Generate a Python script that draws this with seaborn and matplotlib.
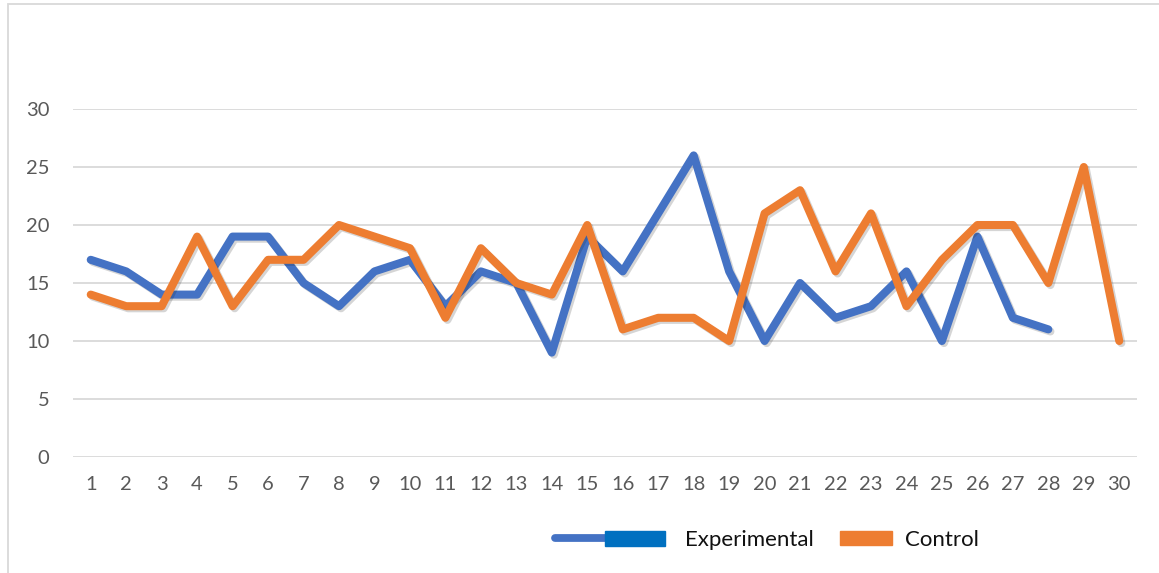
import numpy as np
import pandas as pd
import seaborn as sns
import matplotlib
matplotlib.use("Agg")
import matplotlib.pyplot as plt
import matplotlib.patheffects as pe
from matplotlib.lines import Line2D
from matplotlib.patches import Rectangle
from matplotlib.legend_handler import HandlerBase

# ---- data ----
categories = list(range(1, 31))
experimental = [17, 16, 14, 14, 19, 19, 15, 13, 16, 17, 13, 16, 15, 9, 19,
                16, 21, 26, 16, 10, 15, 12, 13, 16, 10, 19, 12, 11, np.nan, np.nan]
control = [14, 13, 13, 19, 13, 17, 17, 20, 19, 18, 12, 18, 15, 14, 20,
           11, 12, 12, 10, 21, 23, 16, 21, 13, 17, 20, 20, 15, 25, 10]
series_names = ["Experimental", "Control"]
y_ticks = [0, 5, 10, 15, 20, 25, 30]

BLUE = "#4472C4"
ORANGE = "#ED7D31"
DARKBLUE = "#0070C0"
TICKCOL = "#595959"
GRID = "#D9D9D9"

sns.set_theme(style="white")
plt.rcParams["font.family"] = ["Lato", "DejaVu Sans"]

df = pd.DataFrame({
    "x": categories * 2,
    "value": experimental + control,
    "series": [series_names[0]] * len(categories) + [series_names[1]] * len(categories),
})

W, H = 1159, 573
fig = plt.figure(figsize=(W / 100, H / 100), dpi=100)
ax = fig.add_axes([73 / W, 1 - 457 / H, (1137 - 73) / W, (457 - 109) / H])

sns.lineplot(data=df, x="x", y="value", hue="series", palette=[BLUE, ORANGE],
             linewidth=5.8, legend=False, ax=ax, sort=False,
             solid_joinstyle="round", solid_capstyle="round")
for ln in ax.get_lines():
    ln.set_path_effects([pe.SimpleLineShadow(offset=(1.5, -1.5), shadow_color="k", alpha=0.18),
                         pe.Normal()])
    ln.set_clip_on(False)

ax.set_xlim(0.5, 30.5)
ax.set_ylim(0, 30)
ax.set_xticks(categories)
ax.set_xticklabels([str(c) for c in categories])
ax.set_yticks(y_ticks)
ax.set_yticklabels([str(t) for t in y_ticks])
ax.yaxis.grid(True, color=GRID, linewidth=1.3)
ax.xaxis.grid(False)
ax.set_axisbelow(True)
for s in ax.spines.values():
    s.set_visible(False)
ax.tick_params(axis="both", length=0, labelsize=14.5, labelcolor=TICKCOL)
ax.tick_params(axis="x", pad=14)
ax.tick_params(axis="y", pad=17)
ax.set_xlabel("")
ax.set_ylabel("")

# chart border (only left and top visible in the crop)
fig.add_artist(Rectangle((8 / W, -0.1), 1.2, (H - 4) / H + 0.1, transform=fig.transFigure,
                         fill=False, edgecolor=GRID, linewidth=1.3))


class ExpHandler(HandlerBase):
    def create_artists(self, legend, orig_handle, xd, yd, width, height, fontsize, trans):
        y = yd + height / 2
        l = Line2D([xd + 2, xd + width * 0.5], [y, y], color=BLUE, linewidth=5.6,
                   solid_capstyle="round", transform=trans)
        r = Rectangle((xd + width * 0.47, y - 5.5), width * 0.53, 11, color=DARKBLUE,
                      transform=trans)
        return [l, r]


class CtlHandler(HandlerBase):
    def create_artists(self, legend, orig_handle, xd, yd, width, height, fontsize, trans):
        y = yd + height / 2
        r = Rectangle((xd, y - 5), width, 10, color=ORANGE, transform=trans)
        return [r]


fs = 16
px = fs * 100 / 72
h1 = Line2D([], [], color=BLUE)
h2 = Line2D([], [], color=ORANGE)
leg1 = fig.legend([h1], [series_names[0]], handler_map={h1: ExpHandler()},
                  loc="center left", bbox_to_anchor=(552 / W, 1 - 540 / H),
                  frameon=False, borderpad=0, borderaxespad=0, fontsize=fs,
                  handlelength=113 / px, handletextpad=20 / px)
leg2 = fig.legend([h2], [series_names[1]], handler_map={h2: CtlHandler()},
                  loc="center left", bbox_to_anchor=(840 / W, 1 - 540 / H),
                  frameon=False, borderpad=0, borderaxespad=0, fontsize=fs,
                  handlelength=52 / px, handletextpad=13 / px)
for lg in (leg1, leg2):
    for t in lg.get_texts():
        t.set_color("#111111")

fig.savefig("out.png", dpi=100, facecolor="white")
